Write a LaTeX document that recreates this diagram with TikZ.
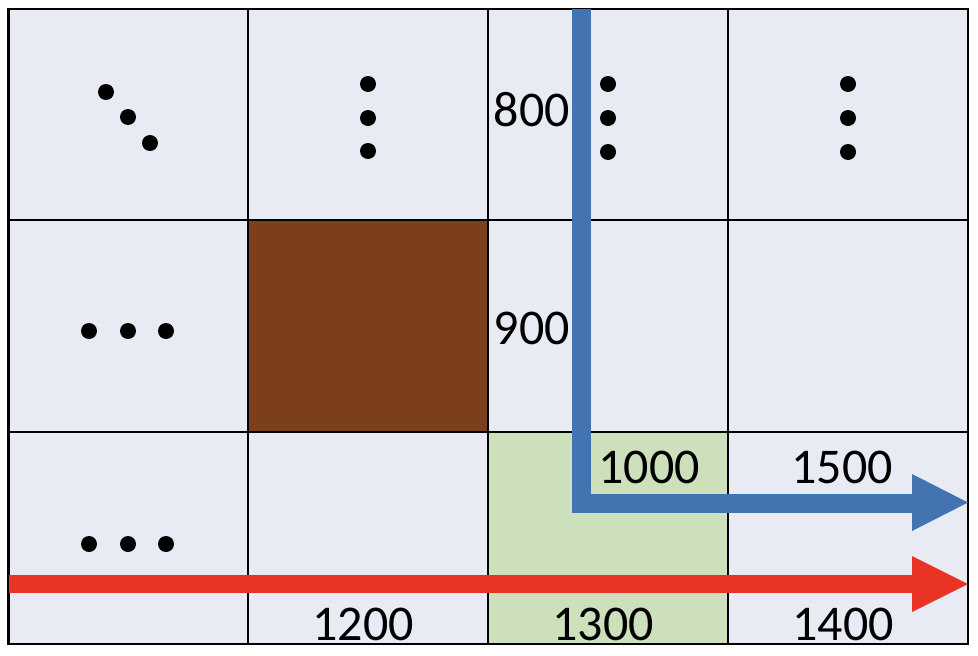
\documentclass[tikz,border=0pt]{standalone}
\usepackage{fontspec}
\setmainfont{Carlito}
\definecolor{cellbg}{HTML}{E8EAF4}
\definecolor{brown}{HTML}{7B3F1B}
\definecolor{lgreen}{HTML}{CCE0BB}
\definecolor{ablue}{HTML}{4373B1}
\definecolor{ared}{HTML}{E83325}
\tikzset{
  gridline/.style={draw=black,line width=2pt},
  dotm/.style={fill=black},
  lbl/.style={font=\fontsize{50}{56}\selectfont,anchor=base,inner sep=0pt},
  bluebar/.style={draw=ablue,line width=19pt,line cap=butt,line join=miter},
  redbar/.style={draw=ared,line width=18pt,line cap=butt},
}
\begin{document}
\begin{tikzpicture}[x=1pt,y=-1pt]
\useasboundingbox (0,0) rectangle (978,656);
% cells
\fill[cellbg] (8.5,9) rectangle (968,644);
\fill[brown] (248,220) rectangle (488,432);
\fill[lgreen] (488,432) rectangle (728,644);
% grid
\draw[gridline] (248,9) -- (248,644);
\draw[gridline] (488,9) -- (488,644);
\draw[gridline] (728,9) -- (728,644);
\draw[gridline] (8.5,220) -- (968,220);
\draw[gridline] (8.5,432) -- (968,432);
\draw[draw=black,line width=2.6pt] (8.5,9) rectangle (968,644);
% dots
\foreach \p in {(106,92),(128,117),(150,143),
                (368,84),(368,118),(368,151),
                (608,84),(608,118),(608,152),
                (848,84),(848,118),(848,152),
                (89,331),(128,331),(166,331),
                (89,544),(128,544),(166,544)}
  \fill[dotm] \p circle (8);
% labels
\node[lbl] (l800) at (532,126) {800};
\node[lbl] (l900) at (532,344) {900};
\node[lbl] (l1000) at (649,483) {1000};
\node[lbl] (l1500) at (842,483) {1500};
\node[lbl] (l1200) at (363,640) {1200};
\node[lbl] (l1300) at (603,640) {1300};
\node[lbl] (l1400) at (843,640) {1400};
% blue arrow
\coordinate (bs) at (581,9);
\coordinate (bc) at (581,503.5);
\coordinate (be) at (913,503.5);
\coordinate (bt) at (968,502.5);
\draw[bluebar] (bs) -- (bc) -- (be);
\fill[ablue] (912,474) -- (bt) -- (912,531) -- cycle;
% red arrow
\coordinate (rs) at (8.5,584);
\coordinate (re) at (913,584);
\coordinate (rt) at (968,584);
\draw[redbar] (rs) -- (re);
\fill[ared] (912,556) -- (rt) -- (912,612) -- cycle;
\end{tikzpicture}
\end{document}
